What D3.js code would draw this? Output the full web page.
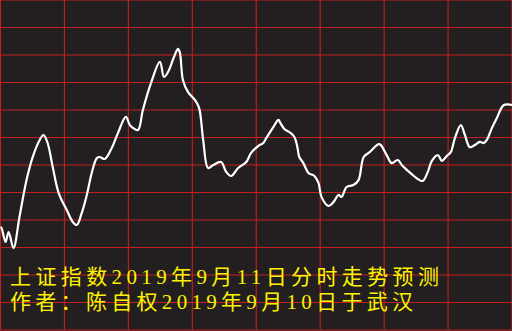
<!DOCTYPE html>
<html><head><meta charset="utf-8">
<script src="https://cdn.jsdelivr.net/npm/d3@7"></script>
<style>html,body{margin:0;padding:0;background:#231f20;}svg{display:block;}</style>
</head><body>
<svg id="c" width="512" height="331"></svg>
<script>
// minutes of the trading session (0..240)
const minutes = [0,0.5,2.4,3.8,6.1,8.9,12.2,15.1,18.4,20.2,22.1,24.5,27.3,31.1,33.9,35.8,38.1,40.5,42.8,45.2,46.6,48.9,52.2,55.1,58.8,60.7,62.1,64.5,66.8,70.6,74.8,76.7,78.6,81.4,83.3,84.2,85.6,88.0,91.3,93.2,95.1,97.4,99.8,103.5,105.9,108.2,111.5,115.3,117.6,120.9,123.3,124.7,128,130.4,131.3,133.2,135.5,137.9,139.3,140.2,142.1,144.5,147.3,149.2,150.6,153.9,156.2,158.6,160,162.4,165.6,168,170.4,173.2,177.4,178.4,181.2,183.5,186.4,188.7,192.9,195.8,198.1,200.5,202.4,205.2,207.1,209.4,211.3,213.2,216,217.9,220.2,222.6,224.9,226.8,228.2,230.6,232.9,236.2,240];
// forecast level (relative units, 0..120)
const levels = [37.5,37.1,32,35.6,29.8,41.1,54.5,62.9,69.1,70.9,68,59.3,49.8,43.6,39.3,38.2,42.5,49.1,57.1,62.5,62.9,62.2,66.2,71.6,77.5,74.5,73.5,72.7,80,89.8,97.5,92,93.8,99.3,102.2,100.7,90.9,86.5,83.6,80.7,69.1,58.9,60,61.1,57.5,56,58.9,61.1,64.4,66.9,68,69.8,73.8,76.4,75.3,73.1,72,70.2,66.5,62.9,60.7,57.1,56,53.5,48.4,45.1,46.5,49.1,48.4,52,52.7,54.5,62.9,64.7,67.6,67.3,63.6,60.7,61.8,59.6,56.7,54.9,54.2,57.5,61.5,63.6,61.5,63.3,64.7,69.8,74.5,70.9,66.5,67.3,68.4,68,69.1,73.5,77.1,81.8,81.8];
const xTicks = [0,30,60,90,120,150,180,210,240];
const yTicks = [0,10,20,30,40,50,60,70,80,90,100,110,120];
const titleLines = ["上证指数2019年9月11日分时走势预测","作者：陈自权2019年9月10日于武汉"];

const svg = d3.select("#c");
const x = d3.scaleLinear().domain([0,240]).range([0.5,512]);
const y = d3.scaleLinear().domain([0,120]).range([330,0]);

svg.append("rect").attr("width",512).attr("height",331).attr("fill","#231f20");

const grid = svg.append("g").attr("stroke","#c42020").attr("stroke-width",1.1);
grid.selectAll("line.h").data(yTicks).join("line").attr("class","h")
  .attr("x1",0).attr("x2",512).attr("y1",d=>y(d)).attr("y2",d=>y(d));
grid.selectAll("line.v").data(xTicks).join("line").attr("class","v")
  .attr("y1",0).attr("y2",330).attr("x1",d=>x(d)).attr("x2",d=>x(d));

const pts = minutes.map((m,i)=>[m,levels[i]]);
const line = d3.line().x(d=>x(d[0])).y(d=>y(d[1])).curve(d3.curveCatmullRom.alpha(0.5));
svg.append("path").attr("d",line(pts)).attr("fill","none")
  .attr("stroke","#ffffff").attr("stroke-width",2.2).attr("stroke-linejoin","round");

const ends = [439, 413];
svg.selectAll("text.t").data(titleLines).join("text").attr("class","t")
  .attr("x",10).attr("y",(d,i)=>284+i*25)
  .attr("textLength",(d,i)=>ends[i]-10).attr("lengthAdjust","spacing")
  .attr("fill","#fff200")
  .style("font-family","'Liberation Serif','Noto Sans CJK SC'")
  .style("font-size","21px")
  .text(d=>d);
</script>
</body></html>
